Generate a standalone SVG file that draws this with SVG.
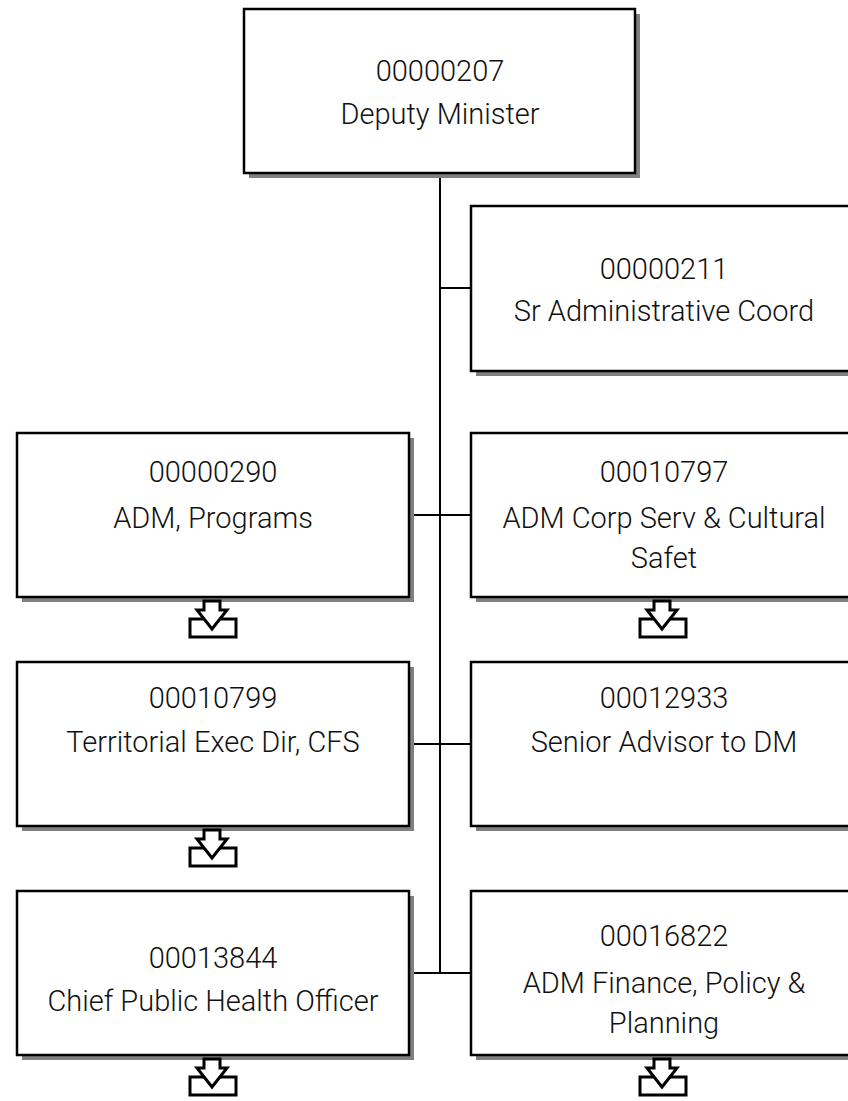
<svg xmlns="http://www.w3.org/2000/svg" width="848" height="1101" viewBox="0 0 848 1101">
<style>
.shadow{fill:#808080;stroke:none}
.box{fill:#ffffff;stroke:#000000;stroke-width:2.5}
.t{font-family:Roboto,"Liberation Sans",sans-serif;font-weight:300;font-size:29px;fill:#111111;text-anchor:middle}
.conn{stroke:#000000;stroke-width:2;fill:none}
.icon{fill:#ffffff;stroke:#000000;stroke-width:3;stroke-linejoin:miter}
</style>
<defs>
<g id="drill">
<rect class="icon" x="-22" y="22" width="46" height="18"/>
<path class="icon" d="M-8,4 L8,4 L8,13 L15,13 L0,32 L-15,13 L-8,13 Z"/>
</g>
</defs>
<g id="connectors">
<line class="conn" x1="440" y1="175" x2="440" y2="973"/>
<line class="conn" x1="440" y1="288" x2="471" y2="288"/>
<line class="conn" x1="409" y1="515" x2="471" y2="515"/>
<line class="conn" x1="409" y1="744" x2="471" y2="744"/>
<line class="conn" x1="409" y1="973" x2="471" y2="973"/>
</g>
<g id="n00000207">
<rect class="shadow" x="249" y="14" width="391" height="164"/>
<rect class="box" x="244" y="9" width="391" height="164"/>
<text class="t" x="440" y="81">00000207</text>
<text class="t" x="440" y="124">Deputy Minister</text>
</g>
<g id="n00000211">
<rect class="shadow" x="476" y="211" width="392" height="165"/>
<rect class="box" x="471" y="206" width="392" height="165"/>
<text class="t" x="664" y="279">00000211</text>
<text class="t" x="664" y="321">Sr Administrative Coord</text>
</g>
<g id="n00000290">
<rect class="shadow" x="22" y="438" width="392" height="164"/>
<rect class="box" x="17" y="433" width="392" height="164"/>
<text class="t" x="213" y="482">00000290</text>
<text class="t" x="213" y="528">ADM, Programs</text>
<use href="#drill" x="212" y="597"/>
</g>
<g id="n00010797">
<rect class="shadow" x="476" y="438" width="392" height="164"/>
<rect class="box" x="471" y="433" width="392" height="164"/>
<text class="t" x="664" y="482">00010797</text>
<text class="t" x="664" y="528">ADM Corp Serv &amp; Cultural</text>
<text class="t" x="664" y="568">Safet</text>
<use href="#drill" x="662" y="597"/>
</g>
<g id="n00010799">
<rect class="shadow" x="22" y="667" width="392" height="164"/>
<rect class="box" x="17" y="662" width="392" height="164"/>
<text class="t" x="213" y="708">00010799</text>
<text class="t" x="213" y="752">Territorial Exec Dir, CFS</text>
<use href="#drill" x="212" y="826"/>
</g>
<g id="n00012933">
<rect class="shadow" x="476" y="667" width="392" height="164"/>
<rect class="box" x="471" y="662" width="392" height="164"/>
<text class="t" x="664" y="708">00012933</text>
<text class="t" x="664" y="752">Senior Advisor to DM</text>
</g>
<g id="n00013844">
<rect class="shadow" x="22" y="896" width="392" height="164"/>
<rect class="box" x="17" y="891" width="392" height="164"/>
<text class="t" x="213" y="968">00013844</text>
<text class="t" x="213" y="1011">Chief Public Health Officer</text>
<use href="#drill" x="212" y="1055"/>
</g>
<g id="n00016822">
<rect class="shadow" x="476" y="896" width="392" height="164"/>
<rect class="box" x="471" y="891" width="392" height="164"/>
<text class="t" x="664" y="946">00016822</text>
<text class="t" x="664" y="993">ADM Finance, Policy &amp;</text>
<text class="t" x="664" y="1033">Planning</text>
<use href="#drill" x="662" y="1055"/>
</g>
</svg>
